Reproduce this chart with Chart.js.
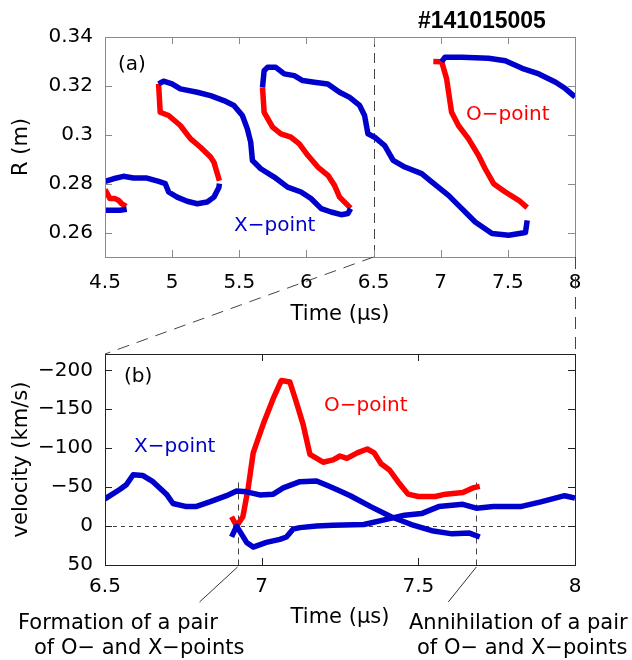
<!DOCTYPE html>
<html>
<head>
<meta charset="utf-8">
<script src="https://cdn.jsdelivr.net/npm/chart.js@4.4.1/dist/chart.umd.min.js"></script>
<style>
  body { margin: 0; background: #fff; }
  #wrap { position: relative; width: 632px; height: 660px; }
  canvas { position: absolute; left: 0; }
  #chartA { top: 0; }
  #chartB { top: 330px; }
  #overlay { top: 0; pointer-events: none; }
</style>
</head>
<body>
<div id="wrap">
  <canvas id="chartA" width="632" height="330"></canvas>
  <canvas id="chartB" width="632" height="330"></canvas>
  <canvas id="overlay" width="632" height="660"></canvas>
</div>
<script>
// ---------- panel (a): radial position R (m) of O- and X-points ----------
const timeTicksA = [4.5, 5, 5.5, 6, 6.5, 7, 7.5, 8];
const rTicks = [0.26, 0.28, 0.3, 0.32, 0.34];

// X-point tracks (blue)
const xpt1T = [4.5, 4.612, 4.662];
const xpt1R = [0.2691, 0.2691, 0.2695];
const xpt2T = [4.5, 4.562, 4.637, 4.712, 4.812, 4.9, 4.949, 4.974, 5.037, 5.112, 5.187, 5.261, 5.311, 5.348, 5.352];
const xpt2R = [0.2809, 0.2820, 0.2830, 0.2823, 0.2823, 0.2809, 0.2800, 0.2766, 0.2745, 0.2728, 0.2718, 0.2725, 0.2745, 0.2784, 0.2800];
const xpt3T = [4.899, 4.936, 4.999, 5.061, 5.187, 5.286, 5.385, 5.46, 5.523, 5.56, 5.585, 5.598, 5.66, 5.76, 5.86, 5.96, 6.034, 6.11, 6.184, 6.259, 6.309, 6.329];
const xpt3R = [0.3208, 0.3219, 0.3208, 0.3188, 0.3174, 0.3160, 0.3140, 0.3120, 0.3079, 0.3024, 0.2970, 0.2895, 0.2861, 0.2827, 0.2786, 0.2766, 0.2739, 0.2698, 0.2684, 0.2673, 0.2678, 0.2698];
const xpt4T = [5.673, 5.685, 5.71, 5.772, 5.835, 5.91, 5.972, 6.059, 6.159, 6.247, 6.322, 6.396, 6.433, 6.458, 6.508, 6.583, 6.646, 6.733, 6.858, 6.933, 7.058, 7.157, 7.257, 7.382, 7.506, 7.631, 7.644];
const xpt4R = [0.3194, 0.3262, 0.3276, 0.3276, 0.3249, 0.3242, 0.3222, 0.3215, 0.3208, 0.3174, 0.3153, 0.3120, 0.3079, 0.3004, 0.2990, 0.2956, 0.2895, 0.2868, 0.2841, 0.2807, 0.2752, 0.2698, 0.2643, 0.2596, 0.2589, 0.2600, 0.2650];
const xpt5T = [7.007, 7.032, 7.157, 7.356, 7.481, 7.606, 7.731, 7.856, 7.93, 8.0];
const xpt5R = [0.3299, 0.3317, 0.3317, 0.3313, 0.3303, 0.3272, 0.3249, 0.3215, 0.3188, 0.3155];

// O-point tracks (red)
const opt1T = [4.5, 4.537, 4.575, 4.6, 4.625, 4.657];
const opt1R = [0.2776, 0.2739, 0.2739, 0.2732, 0.2718, 0.2707];
const opt2T = [4.899, 4.911, 4.974, 5.061, 5.136, 5.211, 5.286, 5.311, 5.352];
const opt2R = [0.3208, 0.3092, 0.3079, 0.3038, 0.2984, 0.2949, 0.2909, 0.2888, 0.2812];
const opt3T = [5.673, 5.685, 5.748, 5.81, 5.885, 5.947, 6.01, 6.085, 6.16, 6.209, 6.247, 6.329];
const opt3R = [0.3194, 0.3092, 0.3031, 0.3004, 0.2990, 0.2963, 0.2916, 0.2868, 0.2834, 0.2793, 0.2745, 0.2700];
const opt4T = [6.945, 7.007, 7.044, 7.081, 7.132, 7.206, 7.281, 7.331, 7.394, 7.481, 7.581, 7.644];
const opt4R = [0.3300, 0.3299, 0.3229, 0.3092, 0.3038, 0.2984, 0.2916, 0.2861, 0.2800, 0.2766, 0.2732, 0.2702];

// ---------- panel (b): velocity (km/s) ----------
const timeTicksB = [6.5, 7, 7.5, 8];
const vTicks = [-200, -150, -100, -50, 0, 50];

const xv1T = [6.5, 6.547, 6.568, 6.59, 6.62, 6.653, 6.696, 6.717, 6.76, 6.79, 6.834, 6.888, 6.92, 6.952, 6.994, 7.037, 7.069, 7.122, 7.175, 7.21, 7.25, 7.283, 7.348, 7.413, 7.478, 7.543, 7.608, 7.663, 7.696];
const xv1V = [-35, -47, -53, -66, -65, -57, -41, -29, -25, -25, -31, -39, -45, -44, -40, -41, -49, -57, -58, -52, -45, -39, -25, -12, -2, 6, 10, 9, 14];
const xv2T = [6.904, 6.92, 6.952, 6.973, 7.015, 7.058, 7.079, 7.1, 7.122, 7.175, 7.228, 7.326, 7.391, 7.456, 7.51, 7.565, 7.642, 7.685, 7.74, 7.826, 7.891, 7.967, 8.0];
const xv2V = [14, 0, 21, 27, 21, 17, 14, 4, 2, 0, -1, -2, -8, -14, -16, -25, -28, -23, -25, -25, -31, -39, -36];
const ovT = [6.904, 6.92, 6.94, 6.957, 6.973, 7.005, 7.037, 7.063, 7.09, 7.11, 7.132, 7.154, 7.196, 7.228, 7.25, 7.272, 7.305, 7.337, 7.359, 7.381, 7.408, 7.435, 7.467, 7.5, 7.554, 7.587, 7.642, 7.674, 7.696];
const ovV = [-12, 0, -12, -49, -94, -131, -164, -187, -185, -160, -131, -92, -82, -85, -90, -87, -94, -99, -94, -80, -72, -57, -41, -38, -38, -41, -43, -49, -51];

const zoomFrom = 6.5, zoomTo = 8;            // time window shown in (b)
const formationT = 6.923, annihilationT = 7.685;

const BLUE = '#0000cc', RED = '#ff0000';
const FONT = 'DejaVu Sans';

function pts(ts, vs) { return ts.map((t, i) => ({ x: t, y: vs[i] })); }
function track(ts, vs, color) {
  return { data: pts(ts, vs), borderColor: color, borderWidth: 5.5, showLine: true,
           pointRadius: 0, fill: false, tension: 0, borderJoinStyle: 'round' };
}
function fixedTicks(list) { return s => { s.ticks = list.map(v => ({ value: v })); }; }

function drawFrame(chart, color) {
  const { ctx, chartArea: a, scales } = chart;
  ctx.save();
  ctx.strokeStyle = color;
  ctx.lineWidth = 1;
  ctx.strokeRect(a.left + 0.5, a.top + 0.5, a.right - a.left, a.bottom - a.top);
  ctx.beginPath();
  scales.x.ticks.forEach(t => {
    const p = Math.round(scales.x.getPixelForValue(t.value)) + 0.5;
    ctx.moveTo(p, a.bottom); ctx.lineTo(p, a.bottom - 7);
    ctx.moveTo(p, a.top); ctx.lineTo(p, a.top + 7);
  });
  scales.y.ticks.forEach(t => {
    const p = Math.round(scales.y.getPixelForValue(t.value)) + 0.5;
    ctx.moveTo(a.left, p); ctx.lineTo(a.left + 7, p);
    ctx.moveTo(a.right, p); ctx.lineTo(a.right - 7, p);
  });
  ctx.stroke();
  ctx.restore();
}
function text(ctx, s, x, y, font, color) {
  ctx.save();
  ctx.font = font; ctx.fillStyle = color;
  ctx.textAlign = 'left'; ctx.textBaseline = 'alphabetic';
  ctx.fillText(s, x, y);
  ctx.restore();
}

const tickFont = { family: FONT, size: 20 };
const titleFont = { family: FONT, size: 21 };

const panelA = {
  id: 'panelA',
  beforeDatasetsDraw(chart) {
    const { ctx, chartArea: a, scales: { x } } = chart;
    const px = Math.round(x.getPixelForValue(zoomFrom)) + 0.5;
    ctx.save();
    ctx.strokeStyle = '#444'; ctx.lineWidth = 1; ctx.setLineDash([10, 6]);
    ctx.beginPath(); ctx.moveTo(px, a.top); ctx.lineTo(px, a.bottom); ctx.stroke();
    ctx.restore();
  },
  afterDatasetsDraw(chart) {
    const ctx = chart.ctx;
    drawFrame(chart, '#8a8a8a');
    text(ctx, '(a)', 118, 70, `20px "${FONT}"`, '#000');
    text(ctx, '#141015005', 418, 28, 'bold 23px "Liberation Sans"', '#000');
    text(ctx, 'X\u2212point', 234, 231, `20px "${FONT}"`, BLUE);
    text(ctx, 'O\u2212point', 466, 120, `20px "${FONT}"`, RED);
  }
};

const panelB = {
  id: 'panelB',
  beforeDatasetsDraw(chart) {
    const { ctx, chartArea: a, scales: { x, y } } = chart;
    ctx.save();
    ctx.strokeStyle = '#444'; ctx.lineWidth = 1;
    ctx.setLineDash([4, 4]);
    const y0 = Math.round(y.getPixelForValue(0)) + 0.5;
    ctx.beginPath(); ctx.moveTo(a.left, y0); ctx.lineTo(a.right, y0); ctx.stroke();
    ctx.setLineDash([6, 5]);
    [formationT, annihilationT].forEach(t => {
      const px = Math.round(x.getPixelForValue(t)) + 0.5;
      ctx.beginPath(); ctx.moveTo(px, y.getPixelForValue(-56)); ctx.lineTo(px, a.bottom); ctx.stroke();
    });
    ctx.restore();
  },
  afterDatasetsDraw(chart) {
    const { ctx, chartArea: a, scales: { x } } = chart;
    drawFrame(chart, '#222');
    text(ctx, '(b)', 124, 52, `20px "${FONT}"`, '#000');
    text(ctx, 'O\u2212point', 324, 81, `20px "${FONT}"`, RED);
    text(ctx, 'X\u2212point', 134, 122, `20px "${FONT}"`, BLUE);
    // pointers from the event times to their notes
    const xf = x.getPixelForValue(formationT), xa = x.getPixelForValue(annihilationT);
    ctx.save();
    ctx.strokeStyle = '#333'; ctx.lineWidth = 1;
    ctx.beginPath();
    ctx.moveTo(xf, a.bottom + 2); ctx.lineTo(xf - 38, a.bottom + 37);
    ctx.moveTo(xa, a.bottom + 2); ctx.lineTo(xa - 28, a.bottom + 37);
    ctx.stroke();
    ctx.restore();
    const nf = `21px "${FONT}"`;
    text(ctx, 'Formation of a pair', 18, 299, nf, '#000');
    text(ctx, 'of O\u2212 and X\u2212points', 34, 324, nf, '#000');
    text(ctx, 'Annihilation of a pair', 409, 299, nf, '#000');
    text(ctx, 'of O\u2212 and X\u2212points', 417, 324, nf, '#000');
  }
};

const chartA = new Chart(document.getElementById('chartA'), {
  type: 'scatter',
  data: {
    datasets: [
      track(xpt1T, xpt1R, BLUE), track(xpt2T, xpt2R, BLUE), track(xpt3T, xpt3R, BLUE),
      track(xpt4T, xpt4R, BLUE), track(xpt5T, xpt5R, BLUE),
      track(opt1T, opt1R, RED), track(opt2T, opt2R, RED), track(opt3T, opt3R, RED), track(opt4T, opt4R, RED)
    ]
  },
  options: {
    responsive: false,
    animation: false,
    layout: { padding: { top: 37, right: 57, left: 0, bottom: 0 } },
    plugins: { legend: { display: false }, tooltip: { enabled: false } },
    scales: {
      x: {
        type: 'linear', min: 4.5, max: 8,
        afterBuildTicks: fixedTicks(timeTicksA),
        afterFit: s => { s.height = 73; },
        grid: { display: false, drawTicks: false }, border: { display: false },
        ticks: { font: tickFont, color: '#000', padding: 14, maxRotation: 0, callback: v => String(v) },
        title: { display: true, text: 'Time (\u00b5s)', font: titleFont, color: '#000', padding: { top: 0, bottom: 3 } }
      },
      y: {
        type: 'linear', min: 0.25, max: 0.34,
        afterBuildTicks: fixedTicks(rTicks),
        afterFit: s => { s.width = 105; },
        grid: { display: false, drawTicks: false }, border: { display: false },
        ticks: { font: tickFont, color: '#000', padding: 12, callback: v => String(v) },
        title: { display: true, text: 'R (m)', font: titleFont, color: '#000', padding: { top: 9, bottom: 0 } }
      }
    }
  },
  plugins: [panelA]
});

const chartB = new Chart(document.getElementById('chartB'), {
  type: 'scatter',
  data: {
    datasets: [track(xv1T, xv1V, BLUE), track(xv2T, xv2V, BLUE), track(ovT, ovV, RED)]
  },
  options: {
    responsive: false,
    animation: false,
    layout: { padding: { top: 14, right: 57, left: 0, bottom: 0 } },
    plugins: { legend: { display: false }, tooltip: { enabled: false } },
    scales: {
      x: {
        type: 'linear', min: zoomFrom, max: zoomTo,
        afterBuildTicks: fixedTicks(timeTicksB),
        afterFit: s => { s.height = 95; },
        grid: { display: false, drawTicks: false }, border: { display: false },
        ticks: { font: tickFont, color: '#000', padding: 10, maxRotation: 0, callback: v => String(v) },
        title: { display: true, text: 'Time (\u00b5s)', font: titleFont, color: '#000', padding: { top: 0, bottom: 30 } }
      },
      y: {
        type: 'linear', min: -221, max: 50, reverse: true,
        afterBuildTicks: fixedTicks(vTicks),
        afterFit: s => { s.width = 105; },
        grid: { display: false, drawTicks: false }, border: { display: false },
        ticks: { font: tickFont, color: '#000', padding: 12, callback: v => v < 0 ? '\u2212' + Math.abs(v) : String(v) },
        title: { display: true, text: 'velocity (km/s)', font: titleFont, color: '#000', padding: { top: 9, bottom: 0 } }
      }
    }
  },
  plugins: [panelB]
});

// dashed connectors showing the zoomed time window of (b) inside (a)
(function drawConnectors() {
  const ctx = document.getElementById('overlay').getContext('2d');
  const offB = chartB.canvas.offsetTop;
  const aBottom = chartA.chartArea.bottom;
  const bTop = chartB.chartArea.top + offB;
  const fromA = chartA.scales.x.getPixelForValue(zoomFrom);
  const toA = chartA.scales.x.getPixelForValue(zoomTo);
  const fromB = chartB.scales.x.getPixelForValue(zoomFrom);
  const toB = chartB.scales.x.getPixelForValue(zoomTo);
  ctx.strokeStyle = '#444'; ctx.lineWidth = 1; ctx.setLineDash([12, 8]);
  ctx.beginPath();
  ctx.moveTo(fromA, aBottom); ctx.lineTo(fromB, bTop);
  ctx.moveTo(Math.round(toA) + 0.5, aBottom); ctx.lineTo(Math.round(toB) + 0.5, bTop);
  ctx.stroke();
})();
</script>
</body>
</html>
